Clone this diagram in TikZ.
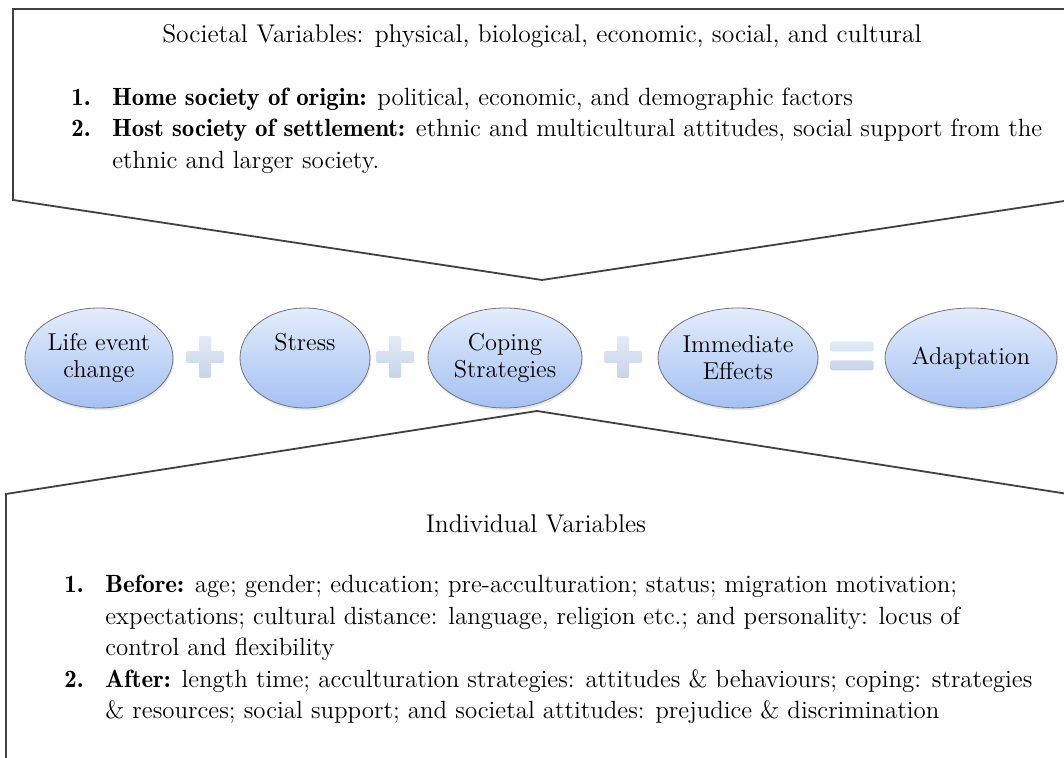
\documentclass[tikz,border=0pt]{standalone}
\usepackage{tikz}
\usetikzlibrary{
    shapes,
    shadows,
    positioning
}
\renewcommand{\bfdefault}{b}
\definecolor{ovaltop}{HTML}{E3ECFB}
\definecolor{ovalbottom}{HTML}{A5C1F3}
\definecolor{signtop}{HTML}{E4EBF7}
\definecolor{signbottom}{HTML}{C6D3EA}
\newcommand{\headfont}{\fontsize{12.8}{15.75}\selectfont}
\newcommand{\listfont}{\fontsize{12.45}{15.75}\selectfont}

\begin{document}
\begin{tikzpicture}[x=5pt, y=5pt,
                    stage/.style={ellipse, draw=black!55, top color=ovaltop, bottom color=ovalbottom,
                                  minimum height=50pt, inner sep=0pt, align=center, font=\fontsize{12.2}{13.5}\selectfont,
                                  drop shadow={opacity=0.18, shadow xshift=0.5pt, shadow yshift=-1.2pt}},
                    sign/.style={top color=signtop, bottom color=signbottom, rounded corners=1pt},
                    callout/.style={draw=black!75, line width=0.9pt},
                    heading/.style={font=\headfont},
                    itemlist/.style={font=\listfont, inner sep=0pt, anchor=north west}]
                        \clip (0, 0) rectangle (106.4, 75.8);
                        \fill[white] (0, 0) rectangle (106.4, 75.8);
                        \draw[callout] (1.3, 74.9) -- (107.1, 74.9) -- (107.1, 55.8) -- (54.2, 47.8) -- (1.3, 55.8) -- cycle;
                        \draw[callout] (0.6, -1) -- (0.6, 26.4) -- (53.7, 34.7) -- (106.8, 26.4) -- (106.8, -1);
                        \node[heading] (societal) at (54.2, 72.2) {Societal Variables: physical, biological, economic, social, and cultural};
                        \node[itemlist] (societylist) at (7.1, 67.5) {%
                            \begin{tabular}{@{}p{20.5pt}@{}l@{}}
                                \textbf{1.} & \textbf{Home society of origin:} political, economic, and demographic factors\\
                                \textbf{2.} & \textbf{Host society of settlement:} ethnic and multicultural attitudes, social support from the\\
                                            & ethnic and larger society.
                            \end{tabular}};
                        \node[stage, minimum width=74pt] (life) at (9.9, 40.0) {Life event\\change};
                        \node[stage, minimum width=65pt, text depth=16pt] (stress) at (30.5, 40.0) {Stress};
                        \node[stage, minimum width=77pt] (coping) at (50.5, 40.0) {Coping\\Strategies};
                        \node[stage, minimum width=80pt] (effects) at (73.8, 40.0) {Immediate\\Effects};
                        \node[stage, minimum width=86pt] (adaptation) at (97.1, 40.0) {Adaptation};
                        \foreach \x in {20.5, 39.5, 62.3} {
                            \shade[sign, shift={(\x, 40.1)}] (-1.9, -0.6) rectangle (1.9, 0.6) (-0.6, -2.1) rectangle (0.6, 2.1);
                        }
                        \shade[sign, shift={(85.2, 40.2)}] (-2.15, 0.45) rectangle (2.15, 1.45) (-2.15, -1.45) rectangle (2.15, -0.45);
                        \node[heading] (individual) at (53.6, 23.4) {Individual Variables};
                        \node[itemlist] (individuallist) at (6.4, 18.75) {%
                            \begin{tabular}{@{}p{20.5pt}@{}l@{}}
                                \textbf{1.} & \textbf{Before:} age; gender; education; pre-acculturation; status; migration motivation;\\
                                            & expectations; cultural distance: language, religion etc.; and personality: locus of\\
                                            & control and flexibility\\
                                \textbf{2.} & \textbf{After:} length time; acculturation strategies: attitudes \& behaviours; coping: strategies\\
                                            & \& resources; social support; and societal attitudes: prejudice \& discrimination
                            \end{tabular}};
                    \end{tikzpicture}
\end{document}
